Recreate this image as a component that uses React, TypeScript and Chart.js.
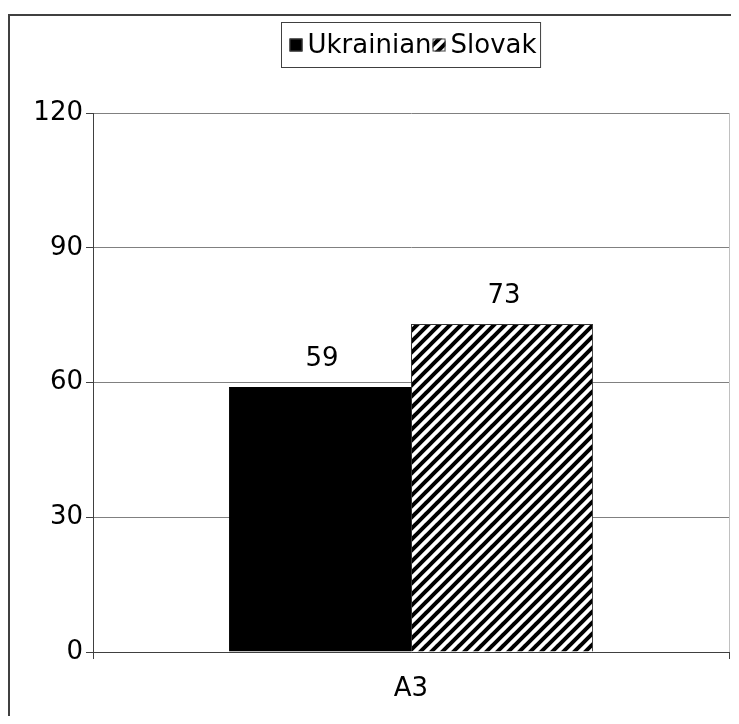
import React, { useEffect, useRef } from "react";
import { Chart, registerables } from "chart.js";

Chart.register(...registerables);

const categories = ["A3"];
const seriesNames = ["Ukrainian", "Slovak"];
const ukrainianValues = [59];
const slovakValues = [73];
const yTicks = [0, 30, 60, 90, 120];

const FONT_FAMILY = "'DejaVu Sans', sans-serif";
const FONT_SIZE = 26;

function makeHatch(): CanvasPattern | string {
  const size = 11;
  const c = document.createElement("canvas");
  c.width = size;
  c.height = size;
  const g = c.getContext("2d");
  if (!g) return "#888";
  g.fillStyle = "#ffffff";
  g.fillRect(0, 0, size, size);
  g.strokeStyle = "#000000";
  g.lineWidth = 4;
  g.lineCap = "square";
  for (const off of [-size, 0, size]) {
    g.beginPath();
    g.moveTo(off, size);
    g.lineTo(off + size, 0);
    g.stroke();
  }
  const p = g.createPattern(c, "repeat");
  return p || "#888";
}

// Boxed legend drawn above the plot, centred over the chart area
const boxedLegend = {
  id: "boxedLegend",
  afterDraw(chart: any) {
    const { ctx, chartArea } = chart;
    const ds = chart.data.datasets;
    ctx.save();
    ctx.font = `${FONT_SIZE}px ${FONT_FAMILY}`;
    const sq = 13;
    const gapAfterBox = 5;
    const gapBetween = 1;
    const widths = ds.map((d: any) => ctx.measureText(d.label).width);
    let content = 0;
    widths.forEach((w: number, i: number) => {
      content += sq + gapAfterBox + w + (i < widths.length - 1 ? gapBetween : 0);
    });
    const padL = 8;
    const padR = 4;
    const boxW = content + padL + padR;
    const boxH = 45;
    const cx = (chartArea.left + chartArea.right) / 2;
    const left = Math.round(cx - boxW / 2) + 0.5;
    const top = 14.5;
    ctx.strokeStyle = "#404040";
    ctx.lineWidth = 1;
    ctx.strokeRect(left, top, boxW, boxH);
    const midY = top + boxH / 2;
    let x = left + padL;
    ds.forEach((d: any, i: number) => {
      ctx.fillStyle = d.backgroundColor;
      ctx.fillRect(x, midY - sq / 2, sq, sq);
      ctx.strokeStyle = "#404040";
      ctx.strokeRect(x + 0.5, midY - sq / 2 + 0.5, sq - 1, sq - 1);
      x += sq + gapAfterBox;
      ctx.fillStyle = "#000000";
      ctx.textAlign = "left";
      ctx.textBaseline = "middle";
      ctx.fillText(d.label, x, midY + 1);
      x += widths[i] + gapBetween;
    });
    ctx.restore();
  },
};

// Value printed above each bar
const valueLabels = {
  id: "valueLabels",
  afterDatasetsDraw(chart: any) {
    const { ctx } = chart;
    ctx.save();
    ctx.font = `${FONT_SIZE}px ${FONT_FAMILY}`;
    ctx.fillStyle = "#000000";
    ctx.textAlign = "center";
    ctx.textBaseline = "middle";
    chart.data.datasets.forEach((d: any, di: number) => {
      const meta = chart.getDatasetMeta(di);
      meta.data.forEach((el: any, i: number) => {
        ctx.fillText(String(d.data[i]), el.x + 2, el.y - 28);
      });
    });
    ctx.restore();
  },
};

export default function App() {
  const canvasRef = useRef<HTMLCanvasElement | null>(null);

  useEffect(() => {
    if (!canvasRef.current) return;
    const hatch = makeHatch();
    const chart = new Chart(canvasRef.current, {
      type: "bar",
      data: {
        labels: categories,
        datasets: [
          {
            label: seriesNames[0],
            data: ukrainianValues,
            backgroundColor: "#000000",
            borderColor: "#000000",
            borderWidth: 1,
          },
          {
            label: seriesNames[1],
            data: slovakValues,
            backgroundColor: hatch as any,
            borderColor: "#333333",
            borderWidth: 1,
          },
        ],
      },
      options: {
        responsive: false,
        animation: false,
        events: [],
        layout: { padding: { top: 105, right: 10, left: 0, bottom: 0 } },
        datasets: {
          bar: { categoryPercentage: 0.5725, barPercentage: 1 },
        },
        plugins: {
          legend: { display: false },
          tooltip: { enabled: false },
        },
        scales: {
          x: {
            afterFit: (s: any) => {
              s.height = 64;
            },
            grid: {
              offset: true,
              color: (c: any) => (c.index === 0 ? "#404040" : "#c0c0c0"),
              tickColor: "#404040",
              tickLength: 7,
            },
            border: { color: "#404040", width: 1 },
            ticks: {
              color: "#000000",
              padding: 15,
              font: { family: FONT_FAMILY, size: FONT_SIZE },
            },
          },
          y: {
            min: yTicks[0],
            max: yTicks[yTicks.length - 1],
            afterFit: (s: any) => {
              s.width = 85;
            },
            afterBuildTicks: (s: any) => {
              s.ticks = yTicks.map((v) => ({ value: v }));
            },
            grid: {
              color: "#808080",
              tickColor: "#404040",
              tickLength: 7,
            },
            border: { color: "#404040", width: 1 },
            ticks: {
              color: "#000000",
              padding: 3,
              font: { family: FONT_FAMILY, size: FONT_SIZE },
            },
          },
        },
      },
      plugins: [valueLabels, boxedLegend],
    });
    return () => chart.destroy();
  }, []);

  return (
    <div style={{ position: "relative", width: 731, height: 708, overflow: "hidden" }}>
      <div
        style={{
          position: "absolute",
          left: 0,
          top: 6,
          width: 800,
          height: 800,
          borderTop: "2px solid #404040",
          borderLeft: "2px solid #404040",
        }}
      />
      <canvas
        ref={canvasRef}
        width={731}
        height={708}
        style={{ position: "absolute", left: 0, top: 0, display: "block" }}
      />
    </div>
  );
}
